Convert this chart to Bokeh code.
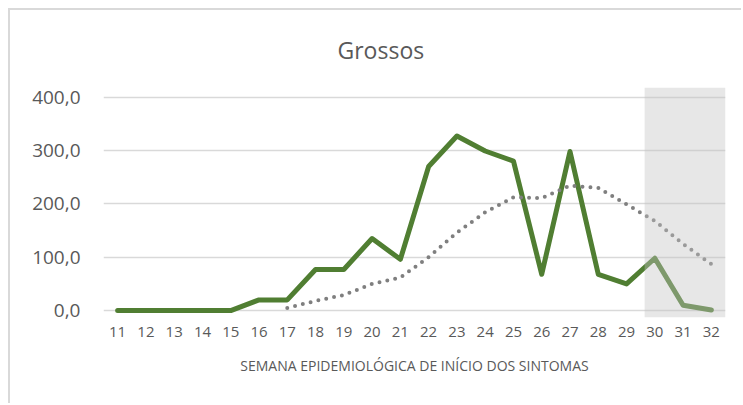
from bokeh.plotting import figure
from bokeh.models import Range1d, FixedTicker, ColumnDataSource
from bokeh.embed import file_html
from bokeh.resources import INLINE

# ---- data ----
weeks = list(range(11, 33))
cases = [0, 0, 0, 0, 0, 20, 20, 77, 77, 135, 96, 270, 327, 299, 280, 68, 298, 68, 50, 98, 10, 1]
trend_weeks = list(range(17, 33))
trend = [5, 18, 29, 50, 62, 100, 146, 184, 212, 211, 234, 230, 199, 168, 125, 87]
y_ticks = [0, 100, 200, 300, 400]
y_tick_labels = ["0,0", "100,0", "200,0", "300,0", "400,0"]
title_text = "Grossos"
x_title = "SEMANA EPIDEMIOLÓGICA DE INÍCIO DOS SINTOMAS"
shade_from_week = 30
shade_to_week = 32

FONT = "Open Sans"
GREEN = "#507e32"
TXT = "#595959"

p = figure(width=733, height=395, output_backend="svg", toolbar_location=None,
           x_range=Range1d(10.5, 32.5), y_range=Range1d(-13, 418),
           min_border_left=93, min_border_right=18, min_border_top=77, min_border_bottom=88)
p.styles = {"border-left": "2px solid #d9d9d9", "border-top": "2px solid #d9d9d9",
            "margin-left": "8px", "margin-top": "8px"}
p.outline_line_color = None
p.background_fill_color = "white"
p.border_fill_color = "white"

# title
p.title.text = title_text
p.title.align = "left"
p.title.offset = 234
p.title.text_font = FONT
p.title.text_font_size = "23px"
p.title.text_font_style = "normal"
p.title.text_color = TXT
p.title.standoff = 40
p.title.vertical_align = "top"

# grid
p.xgrid.grid_line_color = None
p.ygrid.grid_line_color = "#d9d9d9"
p.ygrid.grid_line_width = 1.5
p.ygrid.ticker = FixedTicker(ticks=y_ticks)

# axes
p.xaxis.ticker = FixedTicker(ticks=weeks)
p.xaxis.axis_line_color = None
p.xaxis.major_tick_line_color = None
p.xaxis.minor_tick_line_color = None
p.xaxis.major_tick_out = 0
p.xaxis.major_label_standoff = 9
p.xaxis.major_label_text_font = FONT
p.xaxis.major_label_text_font_size = "15px"
p.xaxis.major_label_text_color = TXT
p.xaxis.axis_label = x_title
p.xaxis.axis_label_text_font = FONT
p.xaxis.axis_label_text_font_size = "14px"
p.xaxis.axis_label_text_font_style = "normal"
p.xaxis.axis_label_text_color = TXT
p.xaxis.axis_label_standoff = 16

p.yaxis.ticker = FixedTicker(ticks=y_ticks)
p.yaxis.major_label_overrides = {t: l for t, l in zip(y_ticks, y_tick_labels)}
p.yaxis.axis_line_color = None
p.yaxis.major_tick_line_color = None
p.yaxis.minor_tick_line_color = None
p.yaxis.major_tick_out = 0
p.yaxis.major_label_standoff = 23
p.yaxis.major_label_text_font = FONT
p.yaxis.major_label_text_font_size = "19px"
p.yaxis.major_label_text_color = TXT

# lines
p.line(weeks, cases, line_color=GREEN, line_width=5, line_join="round", line_cap="round")
p.line(trend_weeks, trend, line_color="#7f7f7f", line_width=4, line_dash="0 8",
       line_cap="round")

# shaded band on top (semi-transparent)
p.quad(left=[shade_from_week - 0.36], right=[shade_to_week + 0.5],
       bottom=[-13], top=[418], fill_color="#c3c3c3", fill_alpha=0.4, line_color=None)

open("out.html", "w").write(file_html(p, INLINE))
